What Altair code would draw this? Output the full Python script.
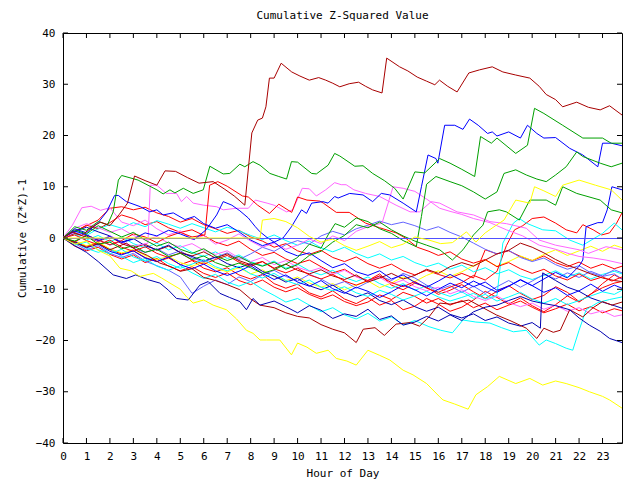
import altair as alt
import pandas as pd

# ---------------- data ----------------
HH = [i * 0.5 for i in range(48)] + [23.83]   # half-hour grid used by bundle series

DR1_h = [0, 0.4, 0.8, 1.2, 1.6, 2.0, 2.4, 2.75, 3.05, 3.5, 4.0, 4.35, 4.8, 5.3, 5.8, 6.4, 6.9, 7.3, 7.75, 8.05, 8.3, 8.5, 8.65, 8.8, 9.0, 9.3, 9.75, 10.1, 10.5, 10.9, 11.2, 11.5, 11.8, 12.2, 12.6, 12.9, 13.2, 13.6, 13.8, 14.35, 14.7, 15.1, 15.5, 15.85, 16.05, 16.4, 16.8, 17.3, 17.75, 18.3, 18.75, 19.3, 19.9, 20.3, 20.6, 21.0, 21.3, 21.9, 22.4, 22.9, 23.3, 23.83]
DR1_v = [0, 1.2, 0.5, 2.0, 3.1, 2.4, 4.6, 6.8, 12.1, 11.2, 10.3, 13.1, 13.0, 11.8, 10.7, 11.0, 9.5, 8.2, 6.4, 20.5, 23.0, 23.4, 25.6, 31.2, 31.2, 34.1, 32.4, 31.6, 30.8, 31.3, 30.8, 30.2, 29.5, 30.1, 30.4, 29.6, 28.9, 28.3, 35.1, 33.4, 32.6, 31.4, 30.6, 29.9, 30.8, 29.6, 28.5, 32.2, 32.8, 33.4, 32.4, 31.8, 31.2, 29.6, 28.0, 27.0, 25.6, 26.5, 25.5, 25.0, 25.8, 24.0]

G1_h = [0, 0.5, 1.0, 1.5, 1.9, 2.14, 2.36, 2.5, 3.2, 4.0, 4.27, 4.56, 4.77, 5.13, 5.55, 5.98, 6.26, 6.83, 7.11, 7.54, 7.75, 8.1, 8.4, 8.82, 9.2, 9.53, 9.74, 10.0, 10.6, 10.8, 11.3, 11.58, 11.8, 12.44, 12.79, 13.2, 13.7, 14.14, 14.5, 15.0, 15.42, 16.06, 16.5, 17.0, 17.55, 17.8, 18.26, 18.5, 19.3, 19.8, 20.1, 20.5, 21.3, 22.16, 23.0, 23.37, 23.83]
G1_v = [0, 2.2, 1.5, 3.2, 2.6, 5.1, 11.3, 12.2, 11.3, 9.4, 8.6, 9.4, 8.8, 9.7, 8.7, 9.4, 14.0, 12.5, 12.6, 14.4, 13.9, 14.9, 14.2, 12.6, 12.0, 11.5, 14.9, 14.8, 12.6, 12.5, 14.2, 16.5, 16.0, 14.0, 14.1, 12.6, 11.2, 9.7, 7.6, 12.9, 12.7, 15.5, 14.6, 13.4, 12.0, 19.8, 18.5, 19.5, 16.5, 18.1, 25.3, 24.3, 22.0, 19.5, 19.5, 18.5, 18.5]

G2_h = [0, 0.5, 1, 1.5, 2, 2.5, 3, 3.5, 4, 4.5, 5, 5.5, 6, 6.5, 7, 7.5, 8, 8.5, 9, 9.5, 10, 10.5, 11, 11.3, 11.6, 12, 12.5, 13, 13.5, 14, 14.5, 15.06, 15.28, 15.5, 15.9, 16.5, 17.0, 17.5, 18.0, 18.5, 18.8, 19.3, 19.75, 20.2, 20.6, 21.0, 21.45, 21.9, 22.16, 22.9, 23.37, 23.83]
G2_v = [0, -0.6, 0.4, -1.2, -0.8, -2.1, -1.5, -2.8, -2.2, -3.6, -3.0, -4.2, -3.5, -4.8, -5.6, -4.9, -5.8, -6.9, -6.2, -5.1, -3.8, -1.2, -2.0, 0.6, 2.8, 2.1, 3.9, 3.2, 1.8, 0.9, -0.5, -1.7, 4.2, 10.5, 12.0, 11.0, 10.2, 9.0, 7.6, 9.0, 12.6, 13.3, 12.3, 11.5, 11.0, 12.3, 13.9, 16.8, 15.9, 14.6, 13.9, 14.6]

G3_h = [0, 0.5, 1, 1.5, 2, 2.5, 3, 3.5, 4, 4.5, 5, 5.5, 6, 6.5, 7, 7.5, 8, 8.5, 9, 9.5, 10, 10.5, 11, 11.5, 12, 12.5, 13, 13.5, 14, 14.5, 15, 15.5, 16.06, 16.6, 17.05, 17.5, 17.9, 18.1, 18.6, 18.9, 19.45, 19.9, 20.6, 21.0, 21.3, 21.9, 22.9, 23.37, 23.83]
G3_v = [0, 1.6, 0.8, 2.4, 1.3, 0.2, 1.1, -0.4, -1.6, -0.8, -2.2, -3.0, -2.1, -3.5, -4.4, -3.6, -4.8, -5.5, -4.7, -6.1, -5.2, -3.4, -2.6, -0.8, 0.5, 2.6, 2.0, 3.1, 1.6, 0.4, -0.6, -1.4, -2.3, -4.3, -2.3, 0.6, 2.5, 5.1, 5.5, 5.1, 3.5, 7.4, 7.4, 6.4, 10.0, 8.7, 7.4, 5.5, 4.9]

B1_h = [0, 0.5, 1, 1.5, 2, 2.5, 3, 3.5, 4, 4.5, 5, 5.6, 6.1, 6.55, 6.83, 7.2, 7.54, 7.9, 8.2, 8.4, 8.7, 9.0, 9.38, 9.74, 10.17, 10.38, 10.6, 11.08, 11.3, 11.58, 11.73, 12.22, 12.79, 13.2, 13.57, 13.93, 14.5, 15.06, 15.28, 15.56, 15.9, 15.98, 16.27, 16.7, 17.05, 17.33, 17.7, 18.1, 18.3, 18.5, 19.0, 19.5, 19.8, 20.2, 20.5, 21.0, 21.6, 22.16, 22.8, 23.0, 23.37, 23.83]
B1_v = [0, 1.4, 0.6, -0.5, 0.3, -0.9, -0.2, 1.0, 0.4, 1.5, 0.8, -0.3, 1.6, 4.5, 7.1, 6.4, 5.3, 3.9, 2.2, 1.2, 0.1, -0.8, 0, 2.2, 5.5, 4.8, 6.8, 7.1, 6.8, 8.1, 7.8, 8.7, 8.4, 7.1, 8.7, 8.4, 6.8, 5.1, 10.0, 16.2, 15.5, 14.6, 22.0, 22.0, 21.2, 23.2, 22.0, 20.4, 20.7, 19.9, 20.7, 19.5, 22.0, 20.4, 19.5, 19.6, 17.5, 16.2, 13.9, 18.5, 18.5, 18.0]

B0_h = [0, 0.5, 1, 1.5, 1.86, 2.2, 2.36, 2.7, 3.3, 3.7, 4.0, 4.27, 4.7, 5.2, 5.6, 6.0, 6.5, 7.0, 7.5, 8.0, 8.5, 9.0, 9.5, 10.0, 10.5, 11.0, 11.5, 12.0, 12.5, 13.0, 13.5, 14.0, 14.5, 15.0, 15.5, 16.0, 16.5, 17.0, 17.5, 18.0, 18.5, 19.0, 19.5, 20.0, 20.5, 21.0, 21.5, 22.0, 22.5, 23.0, 23.5, 23.83]
B0_v = [0, 1.8, 1.0, 3.0, 5.1, 8.3, 8.3, 7.1, 6.1, 5.1, 5.5, 4.5, 4.9, 3.6, 4.2, 2.8, 1.9, 2.6, 1.2, -0.4, -1.5, -0.8, -2.6, -3.5, -2.9, -4.4, -5.8, -5.0, -6.6, -7.3, -6.4, -8.0, -7.2, -8.7, -9.6, -8.4, -7.1, -8.3, -9.5, -8.6, -10.2, -9.4, -8.1, -9.3, -10.6, -9.7, -11.2, -10.3, -9.0, -10.4, -9.2, -9.8]

Y1_h = [0, 0.5, 1, 1.5, 2, 2.43, 2.9, 3.28, 3.85, 4.2, 4.56, 5.0, 5.27, 5.55, 6.0, 6.4, 6.97, 7.4, 7.82, 8.1, 8.4, 8.67, 9.24, 9.74, 10.0, 10.4, 10.8, 11.3, 11.65, 12.1, 12.5, 13.0, 13.5, 13.93, 14.5, 14.92, 15.5, 16.06, 16.2, 16.7, 17.27, 17.6, 18.1, 18.6, 19.3, 19.9, 20.45, 21.0, 21.45, 22.0, 22.44, 23.0, 23.3, 23.83]
Y1_v = [0, -1.2, -0.6, -2.4, -3.5, -5.9, -6.4, -7.5, -6.9, -7.8, -8.8, -10.0, -11.5, -12.7, -12.1, -13.1, -14.0, -15.8, -18.0, -18.6, -19.9, -19.9, -19.9, -22.8, -20.5, -21.3, -22.5, -21.9, -23.5, -24.0, -24.8, -21.9, -22.9, -23.8, -25.8, -26.7, -28.4, -31.0, -31.6, -32.4, -33.4, -30.6, -29.0, -27.0, -28.4, -27.4, -28.7, -27.9, -28.4, -29.2, -30.0, -30.9, -31.6, -33.2]

BL_h = [0, 0.5, 1, 1.5, 2.14, 2.7, 3.1, 3.6, 4.13, 4.5, 4.84, 5.34, 5.83, 6.19, 6.69, 7.1, 7.54, 7.82, 8.1, 8.4, 9.0, 9.5, 10.0, 10.5, 11.0, 11.5, 12.0, 12.5, 13.0, 13.5, 14.0, 14.5, 15.0, 15.5, 16.0, 16.5, 17.0, 17.5, 18.0, 18.5, 19.0, 19.5, 20.0, 20.5, 21.0, 21.6, 22.0, 22.44, 22.9, 23.3, 23.83]
BL_v = [0, -1.5, -2.8, -4.6, -7.2, -7.9, -7.2, -8.1, -8.8, -10.2, -11.8, -12.1, -9.2, -8.5, -10.8, -11.6, -12.4, -14.0, -11.8, -13.1, -12.3, -13.4, -14.6, -13.2, -14.1, -15.7, -14.8, -15.3, -13.9, -15.9, -15.2, -17.0, -16.4, -15.3, -16.2, -15.0, -16.1, -14.4, -13.5, -13.1, -12.2, -11.4, -12.3, -12.8, -13.2, -14.0, -15.6, -17.0, -18.2, -19.6, -20.4]

DR2_h = [0, 0.5, 1, 1.5, 2, 2.7, 3.2, 3.6, 4.13, 4.6, 5.0, 5.5, 6.0, 6.5, 7.0, 7.54, 8.0, 8.4, 9.0, 9.5, 10.0, 10.5, 11.0, 11.5, 12.0, 12.5, 12.8, 13.3, 13.7, 14.2, 14.8, 15.2, 15.6, 16.06, 16.5, 17.3, 17.9, 18.47, 19.1, 19.75, 20.2, 20.5, 20.9, 21.2, 21.6, 22.16, 22.6, 23.0, 23.4, 23.83]
DR2_v = [0, -0.9, -1.8, -1.1, -2.3, -1.0, -2.6, -3.4, -4.9, -5.6, -6.5, -6.0, -7.7, -8.3, -9.1, -10.1, -11.9, -13.1, -13.6, -14.6, -15.3, -15.6, -16.9, -17.8, -18.5, -20.4, -17.8, -17.5, -19.0, -16.8, -16.5, -17.2, -15.4, -12.7, -12.9, -12.1, -13.6, -15.0, -16.2, -17.6, -19.6, -17.6, -18.4, -18.0, -14.0, -15.4, -13.6, -12.4, -13.1, -12.5]

RU_h = [0, 0.5, 1, 1.5, 2, 2.5, 3, 3.5, 4, 4.5, 5, 5.5, 6.05, 6.25, 6.6, 7.0, 7.65, 7.9, 8.3, 8.8, 9.2, 9.75, 10.0, 10.4, 10.95, 11.1, 11.65, 12.2, 12.9, 13.5, 14.2, 14.6, 15.1, 15.6, 16.0, 16.5, 17.0, 17.5, 18.0, 18.5, 19.0, 19.5, 20.0, 20.5, 21.0, 21.5, 22.0, 22.5, 23.0, 23.4, 23.83]
RU_v = [0, -0.8, 0.6, -0.4, -1.3, -0.5, 0.8, 0.2, -0.9, 0.3, 1.1, 0.2, 0.6, 10.3, 11.0, 10.1, 8.2, 8.0, 6.4, 4.8, 6.6, 5.0, 8.0, 7.4, 7.2, 6.8, 5.0, 5.0, 2.9, 2.0, 1.0, 0, -1.8, -2.6, -3.4, -2.7, -4.1, -4.9, -4.2, -5.6, -4.8, -6.0, -6.9, -6.1, -7.4, -8.2, -7.0, -8.3, -7.6, -8.4, -7.6]

MJ_h = [0, 0.5, 1, 1.5, 2, 2.5, 3, 3.62, 3.72, 4.0, 4.4, 4.84, 5.05, 5.27, 5.55, 6.0, 6.55, 6.83, 7.4, 7.9, 8.2, 8.7, 9.0, 9.53, 9.8, 10.2, 10.5, 10.8, 11.2, 11.58, 11.86, 12.07, 12.4, 12.9, 13.5, 14.2, 14.8, 15.2, 15.7, 16.06, 16.8, 17.5, 18.2, 18.9, 19.75, 20.3, 21.0, 22.0, 22.4, 23.15, 23.83]
MJ_v = [0, 1.1, 0.3, -0.6, 0.4, -0.9, -1.6, -1.0, 10.3, 10.3, 8.7, 8.7, 7.1, 8.1, 6.8, 6.4, 6.1, 5.5, 5.8, 5.8, 7.4, 6.8, 6.4, 5.1, 5.5, 9.7, 9.6, 8.2, 9.4, 10.8, 10.4, 10.4, 9.4, 8.7, 8.1, 6.4, 5.1, 5.1, 7.1, 6.8, 5.1, 4.5, 3.2, 2.8, 1.9, -0.4, -1.4, -2.3, -3.0, -1.7, -2.3]

M2_h = [0, 0.4, 0.8, 1.2, 1.6, 2.0, 2.5, 3.0, 3.5, 4.0, 4.5, 5.0, 5.5, 6.0, 6.5, 7.0, 7.5, 8.0, 8.5, 9.0, 9.5, 10.0, 10.5, 11.0, 11.5, 12.0, 12.5, 13.0, 13.6, 13.9, 14.07, 14.5, 15.0, 15.5, 16.06, 16.5, 17.0, 17.5, 18.2, 18.9, 19.6, 20.3, 21.0, 21.6, 22.0, 22.6, 23.15, 23.83]
M2_v = [0, 2.5, 5.9, 6.2, 5.4, 5.9, 3.1, 2.4, 3.5, 1.8, 0.6, 1.4, -0.3, 0.5, -1.2, -0.4, 0.8, -0.6, -1.8, -1.0, -2.2, -1.4, -0.2, -1.1, 0.4, -0.5, 1.3, 2.2, 2.9, 7.4, 10.0, 9.7, 9.1, 7.6, 5.8, 5.2, 4.6, 3.8, 3.0, 1.6, 0.4, -1.4, -2.2, -3.1, -3.6, -3.9, -4.3, -5.0]

YF_h = [0, 8.4, 8.5, 9.0, 9.5, 10.0, 10.5, 11.0, 11.5, 12.0, 12.5, 13.0, 13.5, 14.0, 14.5, 15.0, 15.6, 16.1, 16.6, 17.2, 17.6, 18.0, 18.47, 18.8, 19.3, 19.9, 20.1, 20.5, 21.0, 21.3, 22.0, 22.7, 23.37, 23.83]
YF_v = [0, 0, 3.5, 3.8, 3.2, 2.0, 0.3, -0.8, -0.2, -1.5, -2.4, -1.6, -0.7, -1.9, -1.2, 0.2, -0.4, -1.1, -0.9, 1.2, -0.8, 1.0, 2.5, 3.5, 7.4, 6.8, 10.0, 9.2, 8.1, 10.3, 11.3, 10.3, 9.4, 7.4]

BJ_h = [i * 0.5 for i in range(44)] + [22.0, 22.16, 22.3, 22.8, 23.0, 23.2, 23.4, 23.83]
BJ_v = [0, -0.7, -1.9, -1.2, -2.6, -3.3, -2.5, -3.9, -4.6, -3.7, -5.2, -6.0, -5.1, -6.4, -7.3, -6.5, -5.4, -6.9, -8.1, -7.2, -8.6, -9.4, -8.3, -9.9, -10.8, -9.6, -10.4, -11.6, -10.5, -9.2, -10.1, -11.3, -10.0, -8.8, -9.7, -8.4, -9.5, -10.6, -9.4, -8.2, -9.3, -8.0, -6.7, -7.8, -5.5, -4.3, 2.2, 3.0, 3.0, 5.5, 10.0, 9.4]

C2_h = [i * 0.5 for i in range(38)] + [18.75, 19.2, 19.45, 19.75, 20.45, 21.0, 21.6, 22.16, 23.0, 23.5, 23.83]
C2_v = [0, -1.4, -0.8, -2.3, -3.1, -2.2, -3.7, -4.5, -3.6, -5.0, -5.9, -5.1, -4.2, -5.6, -6.4, -5.5, -7.0, -7.8, -6.9, -8.3, -9.1, -8.2, -9.6, -10.3, -9.5, -10.7, -11.4, -10.2, -11.0, -12.1, -11.3, -10.4, -11.5, -12.3, -11.6, -10.8, -11.9, -11.2, -1.0, 2.9, 3.8, 2.9, 1.6, 1.4, -0.4, -1.4, 0.9, 2.9, 1.6]

C1_h = [i * 0.5 for i in range(31)] + [15.6, 16.1, 16.6, 17.05, 17.6, 18.2, 18.7, 19.2, 19.75, 20.3, 20.6, 21.0, 21.45, 21.73, 22.0, 22.3, 22.8, 23.3, 23.83]
C1_v = [0, -0.9, -2.0, -2.8, -2.1, -3.6, -4.8, -4.0, -5.5, -6.3, -5.4, -6.8, -7.9, -7.1, -8.6, -9.4, -8.5, -10.0, -11.2, -12.5, -11.8, -13.1, -14.4, -13.6, -15.0, -15.8, -14.7, -16.2, -15.4, -16.9, -16.1, -17.3, -18.0, -18.5, -16.0, -16.4, -16.6, -17.5, -18.3, -18.0, -20.9, -19.9, -20.6, -21.5, -21.9, -18.0, -14.0, -12.6, -12.0, -11.5]

RE_h = [i * 0.5 for i in range(38)] + [18.9, 19.25, 19.6, 20.0, 20.5, 21.0, 21.45, 21.9, 22.16, 22.6, 22.96, 23.3, 23.6, 23.83]
RE_v = [0, 0.6, -0.5, -1.3, -0.4, -1.8, -2.6, -1.7, -3.0, -3.8, -2.9, -4.3, -5.1, -4.2, -3.4, -4.7, -5.5, -4.6, -6.0, -6.8, -5.9, -7.2, -8.0, -7.1, -8.4, -9.2, -8.3, -7.4, -8.7, -9.5, -8.5, -9.8, -10.6, -9.6, -8.7, -7.3, -8.2, -6.5, -1.5, 1.6, 2.4, 3.8, 4.1, 2.9, 1.6, 1.0, 2.6, 1.6, 0.6, 1.0, 2.9, 4.9]

B3_h = [i * 0.5 for i in range(41)] + [20.35, 20.45, 21.0, 21.5, 22.0, 22.5, 23.0, 23.5, 23.83]
B3_v = [0, 1.3, 2.1, 1.2, 0.4, -0.8, -0.1, -1.5, -2.3, -1.4, -2.9, -3.6, -4.5, -3.7, -5.0, -5.8, -5.0, -6.5, -7.4, -8.6, -7.9, -9.3, -10.1, -9.2, -10.6, -11.5, -10.7, -12.2, -13.0, -12.1, -13.4, -14.3, -13.5, -14.9, -15.6, -14.8, -16.1, -15.4, -16.6, -17.2, -16.5, -17.6, -6.8, -8.3, -9.6, -10.4, -11.7, -12.5, -13.2, -13.7]

DR3_v = [0, 0.9, 0.2, -0.7, 0.3, -1.1, -1.9, -1.2, -2.4, -1.6, -2.8, -3.5,
         -2.7, -3.9, -3.1, -4.4, -5.2, -4.6, -5.9, -5.1, -6.3, -7.0, -6.2, -7.4,
         -8.1, -7.2, -8.6, -7.8, -6.9, -8.0, -7.3, -6.1, -6.9, -5.6, -4.8, -5.5,
         -4.3, -3.1, -2.4, -1.0, -1.8, -2.9, -4.2, -5.3, -6.1, -7.0, -7.8, -8.3, -8.5]
M3_v = [0, 1.9, 2.8, 2.0, 1.1, 1.8, 0.5, -0.4, 0.3, -1.0, -1.8, -1.1,
        -2.4, -3.2, -2.5, -3.9, -4.6, -3.8, -5.2, -4.4, -5.7, -6.5, -5.8, -7.1,
        -6.3, -7.6, -8.4, -7.7, -9.0, -8.2, -9.5, -10.3, -9.6, -10.9, -10.1, -11.4,
        -12.2, -11.3, -12.6, -13.4, -12.7, -13.9, -13.1, -14.3, -13.6, -14.8, -14.2, -15.3, -15.0]
SB1_v = [0, -0.7, 0.5, -0.3, -1.4, -0.6, -2.0, -2.8, -2.1, -3.3, -2.5, -3.9,
         -4.7, -3.8, -2.9, -4.2, -3.1, -1.8, -2.6, -1.3, -0.5, -1.2, 0.4, 1.3,
         0.6, 1.8, 2.5, 3.3, 2.6, 3.1, 2.4, 1.5, 2.2, 1.1, 0.2, -1.0,
         -2.2, -3.1, -2.4, -3.8, -4.6, -3.9, -5.2, -6.1, -5.4, -6.8, -7.5, -7.0, -8.0]
SB2_v = [0, -1.1, -2.3, -1.5, -3.0, -3.8, -3.0, -4.5, -5.4, -6.3, -7.6, -10.8,
         -9.4, -8.2, -9.1, -7.6, -8.5, -7.2, -6.3, -7.5, -8.4, -7.1, -8.0, -9.3,
         -8.5, -9.8, -8.6, -7.4, -8.3, -6.9, -7.8, -9.2, -10.1, -9.3, -10.6, -9.4,
         -10.8, -9.5, -8.3, -9.6, -8.4, -7.1, -8.0, -6.8, -7.7, -6.5, -7.4, -6.2, -6.8]
R3_v = [0, -1.6, -2.5, -1.8, -3.2, -4.1, -3.3, -4.8, -4.0, -5.5, -6.4, -5.6,
        -6.9, -7.7, -6.8, -8.3, -9.1, -8.2, -9.6, -10.5, -9.7, -11.0, -11.9, -11.1,
        -12.4, -13.2, -12.5, -11.1, -12.0, -10.6, -11.4, -12.7, -11.8, -13.1, -12.2, -13.6,
        -12.7, -14.0, -13.1, -12.3, -13.5, -14.6, -13.8, -12.9, -14.2, -13.4, -14.6, -13.8, -14.2]
R4_v = [0, 1.3, 2.4, 3.5, 5.8, 6.1, 5.5, 6.0, 4.9, 4.2, 3.1, 3.8,
        2.6, 1.8, 0.9, 1.5, 0.2, -0.6, -1.8, -1.1, -2.5, -3.2, -2.4, -3.8,
        -4.6, -3.7, -5.0, -5.9, -5.1, -6.4, -7.2, -6.3, -7.1, -7.8, -6.9, -7.8,
        -2.3, -3.1, -2.5, -3.6, -4.4, -3.5, -4.8, -5.6, -4.7, -5.9, -5.1, -6.0, -5.5]
C3_v = [0, 0.8, -0.4, 0.5, -0.7, 0.2, -1.1, -1.9, -1.0, -2.3, -1.5, -2.8,
        -3.6, -2.7, -4.0, -3.3, -4.6, -5.4, -4.5, -5.9, -5.1, -6.4, -7.2, -6.3,
        -7.7, -8.5, -7.6, -8.9, -9.8, -8.9, -10.2, -9.3, -10.6, -11.4, -10.5, -11.8,
        -11.0, -12.3, -11.5, -10.6, -11.9, -12.7, -11.8, -13.0, -12.2, -11.3, -10.5, -11.0, -10.2]
C4_v = [0, 1.2, 0.5, 1.8, 2.6, 1.9, 3.0, 2.2, 3.4, 2.7, 1.9, 2.8,
        2.0, 1.2, 2.1, 1.4, 0.5, -0.3, 0.6, -0.5, -1.4, -0.6, -1.9, -2.7,
        -1.8, -3.0, -3.9, -3.1, -4.3, -3.6, -4.8, -5.6, -4.9, -6.1, -5.3, -6.6,
        -5.8, -7.0, -6.2, -7.4, -8.1, -7.3, -6.4, -7.6, -6.8, -8.0, -7.1, -6.5, -7.0]
Y3_v = [0, -0.6, -1.5, -0.8, -2.1, -2.9, -2.2, -3.4, -4.2, -3.6, -4.8, -5.5,
        -4.7, -5.9, -6.6, -5.8, -7.0, -6.2, -7.5, -8.3, -7.6, -8.8, -9.6, -8.9,
        -10.1, -9.2, -8.4, -9.7, -8.8, -7.6, -8.5, -7.3, -6.4, -7.5, -6.6, -5.4,
        -4.3, -5.5, -4.6, -3.5, -4.4, -3.2, -2.3, -3.4, -2.5, -1.6, -2.6, -1.4, -1.9]
R1_v = [0, 1.2, 2.5, 1.8, 3.0, 4.5, 3.8, 2.6, 3.2, 2.0, 1.1, 1.6,
        0.5, -0.8, -1.5, -0.6, -2.2, -3.4, -2.8, -4.1, -5.0, -4.3, -5.6, -6.8,
        -6.1, -7.5, -8.3, -7.0, -9.2, -10.1, -8.8, -9.6, -11.0, -10.2, -9.1, -10.5,
        -11.8, -10.4, -9.3, -10.8, -12.0, -11.2, -9.5, -10.6, -12.4, -11.0, -8.9, -7.2, -8.0]
R2_v = [0, -0.8, -1.6, -0.9, -2.3, -3.1, -2.5, -3.8, -4.6, -3.9, -5.2, -4.4,
        -5.9, -6.6, -5.8, -7.2, -8.0, -7.1, -8.9, -9.8, -9.0, -10.7, -11.5, -10.3,
        -11.9, -12.8, -11.6, -13.1, -12.2, -14.0, -13.3, -11.8, -12.9, -14.3, -13.5, -12.1,
        -10.4, -11.6, -12.9, -11.7, -13.2, -14.4, -13.0, -11.3, -12.5, -10.9, -9.7, -8.8, -8.5]

RED, DRED, GREEN, BLUE, DBLUE = "#ff0000", "#a80000", "#00a000", "#0000ff", "#0000b0"
MAG, YEL, CYAN, SLATE = "#ff66ff", "#ffff00", "#00ffff", "#6464ff"
ZERO_COLOR = "#5050ff"

SERIES = [
    ("R1", RED, HH, R1_v), ("R2", RED, HH, R2_v), ("R3", RED, HH, R3_v), ("R4", RED, HH, R4_v),
    ("C3", CYAN, HH, C3_v), ("C4", CYAN, HH, C4_v), ("Y3", YEL, HH, Y3_v),
    ("SB1", SLATE, HH, SB1_v), ("SB2", SLATE, HH, SB2_v), ("M3", MAG, HH, M3_v),
    ("DR3", DRED, HH, DR3_v), ("B3", DBLUE, B3_h, B3_v), ("RE", RED, RE_h, RE_v),
    ("C1", CYAN, C1_h, C1_v), ("C2", CYAN, C2_h, C2_v), ("BJ", BLUE, BJ_h, BJ_v),
    ("M2", MAG, M2_h, M2_v), ("MJ", MAG, MJ_h, MJ_v), ("RU", RED, RU_h, RU_v),
    ("DR2", DRED, DR2_h, DR2_v), ("BL", DBLUE, BL_h, BL_v), ("Y1", YEL, Y1_h, Y1_v),
    ("B0", BLUE, B0_h, B0_v), ("B1", BLUE, B1_h, B1_v), ("G3", GREEN, G3_h, G3_v),
    ("G2", GREEN, G2_h, G2_v), ("G1", GREEN, G1_h, G1_v), ("DR1", DRED, DR1_h, DR1_v),
]
TOP_SERIES = [("YF", YEL, YF_h, YF_v)]   # drawn above the zero line

X_TICKS = list(range(24))
Y_TICKS = list(range(-40, 41, 10))
ZERO = [0]

# ---------------- chart ----------------
def frame(series_list):
    rows = []
    for name, col, hs, vs in series_list:
        for i, (h, v) in enumerate(zip(hs, vs)):
            rows.append({"series": name, "hour": h, "value": v, "i": i})
    return pd.DataFrame(rows)

W, H = 559, 410
FONT = "DejaVu Sans Mono"
xs = alt.Scale(domain=[0, 23.83], nice=False, zero=False)
ys = alt.Scale(domain=[-40, 40], nice=False)
XAX = alt.Axis(values=X_TICKS, title="Hour of Day", format="d", labelFlush=False)
YAX = alt.Axis(values=Y_TICKS, title="Cumulative (Z*Z)-1", format="d")
ALL = SERIES + TOP_SERIES
cscale = alt.Scale(domain=[s[0] for s in ALL], range=[s[1] for s in ALL])


def line_layer(series_list):
    return alt.Chart(frame(series_list)).mark_line(strokeWidth=1, clip=True).encode(
        x=alt.X("hour:Q", scale=xs, axis=XAX),
        y=alt.Y("value:Q", scale=ys, axis=YAX),
        color=alt.Color("series:N", scale=cscale, legend=None),
        order="i:Q",
    )


lines = line_layer(SERIES)
top_lines = line_layer(TOP_SERIES)

zero = alt.Chart(pd.DataFrame({"value": ZERO})).mark_rule(
    stroke=ZERO_COLOR, color=ZERO_COLOR, strokeWidth=1, yOffset=0.5, opacity=1).encode(
    y=alt.Y("value:Q", scale=ys, axis=YAX), x=alt.value(0), x2=alt.value(W))

xt = pd.DataFrame({"hour": X_TICKS})
yt = pd.DataFrame({"value": Y_TICKS})
xtop = alt.Chart(xt).mark_rule(color="black").encode(x=alt.X("hour:Q", scale=xs, axis=XAX), y=alt.value(0), y2=alt.value(5))
xbot = alt.Chart(xt).mark_rule(color="black").encode(x=alt.X("hour:Q", scale=xs, axis=XAX), y=alt.value(H - 5), y2=alt.value(H))
yl = alt.Chart(yt).mark_rule(color="black").encode(y=alt.Y("value:Q", scale=ys, axis=YAX), x=alt.value(0), x2=alt.value(5))
yr = alt.Chart(yt).mark_rule(color="black").encode(y=alt.Y("value:Q", scale=ys, axis=YAX), x=alt.value(W - 5), x2=alt.value(W))

chart = alt.layer(lines, zero, top_lines, xtop, xbot, yl, yr).properties(
    width=W, height=H,
    autosize="none",
    padding={"left": 63, "top": 33, "right": 18, "bottom": 37},
    title=alt.TitleParams("Cumulative Z-Squared Value", font=FONT, fontSize=11, fontWeight="normal",
                          color="black", anchor="middle", offset=6),
).configure_view(stroke="black", strokeWidth=1).configure_axis(
    ticks=False, domain=False, grid=False,
    labelFont=FONT, labelFontSize=11, labelColor="black",
    titleFont=FONT, titleFontSize=11, titleFontWeight="normal", titleColor="black",
).configure_axisX(labelPadding=7, titlePadding=6).configure_axisY(labelPadding=8, titlePadding=8)

chart.save("out.html", embed_options={"renderer": "svg", "actions": False})
